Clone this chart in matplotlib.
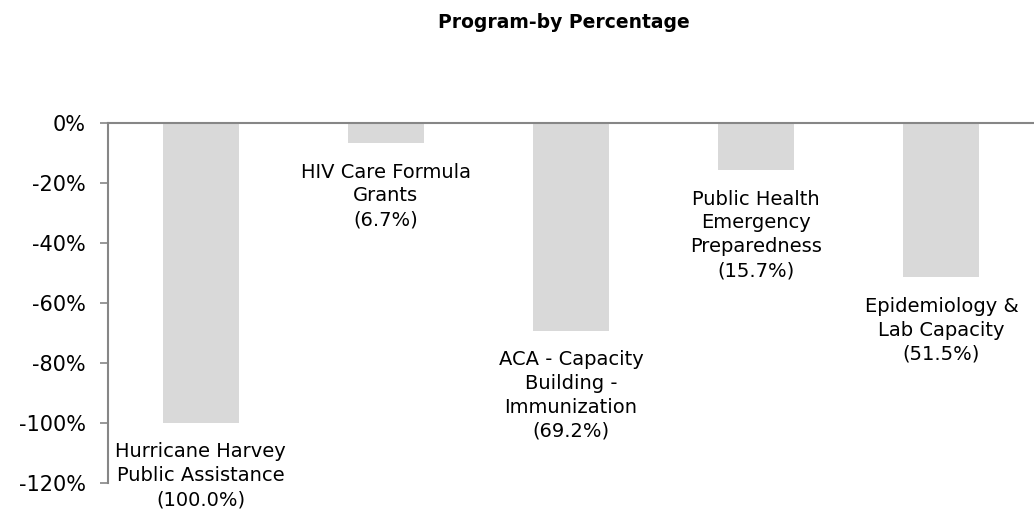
import matplotlib
matplotlib.use("Agg")
import matplotlib.pyplot as plt
from matplotlib.ticker import FuncFormatter

plt.rcParams['font.family'] = ['DejaVu Sans']

categories = ["Hurricane Harvey\nPublic Assistance",
              "HIV Care Formula\nGrants",
              "ACA - Capacity\nBuilding -\nImmunization",
              "Public Health\nEmergency\nPreparedness",
              "Epidemiology &\nLab Capacity"]
values = [-100.0, -6.7, -69.2, -15.7, -51.5]
yticks = [0, -20, -40, -60, -80, -100, -120]

fig = plt.figure(figsize=(10.34, 5.19), dpi=100)
ax = fig.add_axes([0.1044, 0.0694, 0.8956, 0.6936])

x = list(range(len(values)))
ax.bar(x, values, width=0.41, color='#d9d9d9', zorder=2)
ax.set_xlim(-0.5, len(values) - 0.5)
ax.set_ylim(-120, 0)
ax.set_yticks(yticks)
ax.yaxis.set_major_formatter(FuncFormatter(lambda v, p: f"{int(v)}%"))
ax.tick_params(axis='y', length=6, width=1.2, color='#868686', labelsize=15, pad=10, labelcolor='#000000')
ax.set_xticks([])
for s in ['right', 'bottom']:
    ax.spines[s].set_visible(False)
for s in ['left', 'top']:
    ax.spines[s].set_color('#868686')
    ax.spines[s].set_linewidth(1.5)

for xi, v, c in zip(x, values, categories):
    ax.annotate(f"{c}\n({-v:.1f}%)", xy=(xi, v), xytext=(0, -14), textcoords='offset points',
                ha='center', va='top', fontsize=14, linespacing=1.33, annotation_clip=False)

fig.text(0.545, 0.957, "Program-by Percentage", ha='center', va='center', fontsize=13.5, fontweight='bold')

fig.savefig("out.png", dpi=100)
